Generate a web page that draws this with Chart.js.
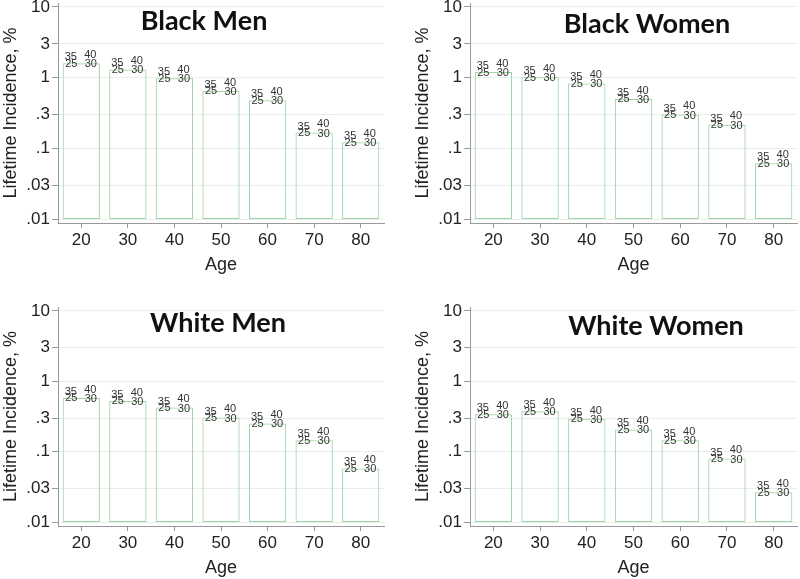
<!DOCTYPE html>
<html><head><meta charset="utf-8">
<script src="https://cdn.jsdelivr.net/npm/chart.js@4.4.1/dist/chart.umd.min.js"></script>
<style>
html,body{margin:0;padding:0;background:#fff;}
#wrap{position:relative;width:800px;height:579px;overflow:hidden;background:#fff;}
canvas{position:absolute;}
</style></head><body>
<div id="wrap">
<canvas id="c0" width="400" height="290" style="left:0;top:0"></canvas>
<canvas id="c1" width="400" height="290" style="left:400px;top:0"></canvas>
<canvas id="c2" width="400" height="289" style="left:0;top:290px"></canvas>
<canvas id="c3" width="400" height="289" style="left:400px;top:290px"></canvas>
</div>
<script>
// ---- data ----
const ages = ['20','30','40','50','60','70','80'];
const yTickValues = [0.01, 0.03, 0.1, 0.3, 1, 3, 10];
const yTickLabels = ['.01', '.03', '.1', '.3', '1', '3', '10'];
const bmiLabels = ['25', '30', '35', '40'];
const panelTitles = ['Black Men', 'Black Women', 'White Men', 'White Women'];
const blackMen   = [1.6, 1.31, 0.98, 0.65, 0.48, 0.167, 0.122];
const blackWomen = [1.2, 1.01, 0.83, 0.5, 0.3, 0.216, 0.0615];
const whiteMen   = [0.58, 0.526, 0.424, 0.306, 0.252, 0.145, 0.0578];
const whiteWomen = [0.341, 0.376, 0.293, 0.207, 0.145, 0.080, 0.0265];
const barBase = 0.01;
const yAxisTitle = 'Lifetime Incidence, %';
const xAxisTitle = 'Age';

// ---- style ----
const FONT = '"Liberation Sans", Arial, sans-serif';
const panels = [
  {id:'c0', values: blackMen,   pad:{left:0,  right:16, top:3,  bottom:14}, title:{x:204, y:30}},
  {id:'c1', values: blackWomen, pad:{left:12, right:3,  top:3,  bottom:14}, title:{x:247, y:33}},
  {id:'c2', values: whiteMen,   pad:{left:0,  right:16, top:17, bottom:0},  title:{x:218, y:42}},
  {id:'c3', values: whiteWomen, pad:{left:12, right:3,  top:17, bottom:0},  title:{x:256, y:45}},
];
const labelOffsets = {'25':[-10, 0.5], '30':[9.5, 1], '35':[-10.5, -6], '40':[9, -8.3]};

function overlayPlugin(titleText, titlePos) {
  return {
    id: 'overlay',
    afterDatasetsDraw(chart) {
      const ctx = chart.ctx;
      ctx.save();
      const meta = chart.getDatasetMeta(0);
      ctx.font = '11px ' + FONT;
      ctx.fillStyle = '#333';
      ctx.textAlign = 'center';
      ctx.textBaseline = 'middle';
      meta.data.forEach(el => {
        const p = el.getProps(['x','y'], true);
        ['35','40','25','30'].forEach(lbl => {
          const o = labelOffsets[lbl];
          ctx.fillText(lbl, p.x + o[0], p.y + o[1]);
        });
      });
      ctx.font = 'bold 27px Lato, "Open Sans", sans-serif';
      ctx.fillStyle = '#111';
      ctx.textBaseline = 'alphabetic';
      ctx.fillText(titleText, titlePos.x, titlePos.y);
      ctx.restore();
    }
  };
}

panels.forEach((pn, k) => {
  new Chart(document.getElementById(pn.id), {
    type: 'bar',
    data: {
      labels: ages,
      datasets: [{
        data: pn.values.map(v => [barBase, v]),
        backgroundColor: 'rgba(255,255,255,0)',
        borderColor: '#9fd3a2',
        borderWidth: 1,
        borderSkipped: false,
        barPercentage: 0.8,
        categoryPercentage: 1.0
      }]
    },
    options: {
      responsive: false,
      animation: false,
      devicePixelRatio: 1,
      layout: {padding: pn.pad},
      plugins: {legend: {display: false}, tooltip: {enabled: false}, title: {display: false}},
      scales: {
        x: {
          type: 'category',
          offset: true,
          grid: {display: true, drawOnChartArea: false, drawTicks: true, tickLength: 5, tickColor: '#999', offset: false},
          border: {display: true, color: '#999', width: 1},
          ticks: {color: '#222', font: {family: FONT, size: 17}, padding: 2, maxRotation: 0},
          title: {display: true, text: xAxisTitle, color: '#222', font: {family: FONT, size: 18}, padding: {top: 0, bottom: 0}},
          afterFit(s) { s.height = 53; s.paddingLeft = 0; s.paddingRight = 0; }
        },
        y: {
          type: 'logarithmic',
          min: 0.00878,
          max: 11.39,
          bounds: 'data',
          afterBuildTicks(s) { s.ticks = yTickValues.map(v => ({value: v})); },
          grid: {display: true, color: '#e6eeee', drawTicks: true, tickLength: 6, tickColor: '#999'},
          border: {display: true, color: '#999', width: 1},
          ticks: {
            color: '#222', font: {family: FONT, size: 17}, padding: 2,
            callback: (v) => { const i = yTickValues.indexOf(v); return i >= 0 ? yTickLabels[i] : ''; }
          },
          title: {display: true, text: yAxisTitle, color: '#222', font: {family: FONT, size: 18}, padding: {top: 0, bottom: 0}},
          afterFit(s) { s.width = 58; s.paddingTop = 0; s.paddingBottom = 0; }
        }
      }
    },
    plugins: [overlayPlugin(panelTitles[k], pn.title)]
  });
});
</script>
</body></html>
